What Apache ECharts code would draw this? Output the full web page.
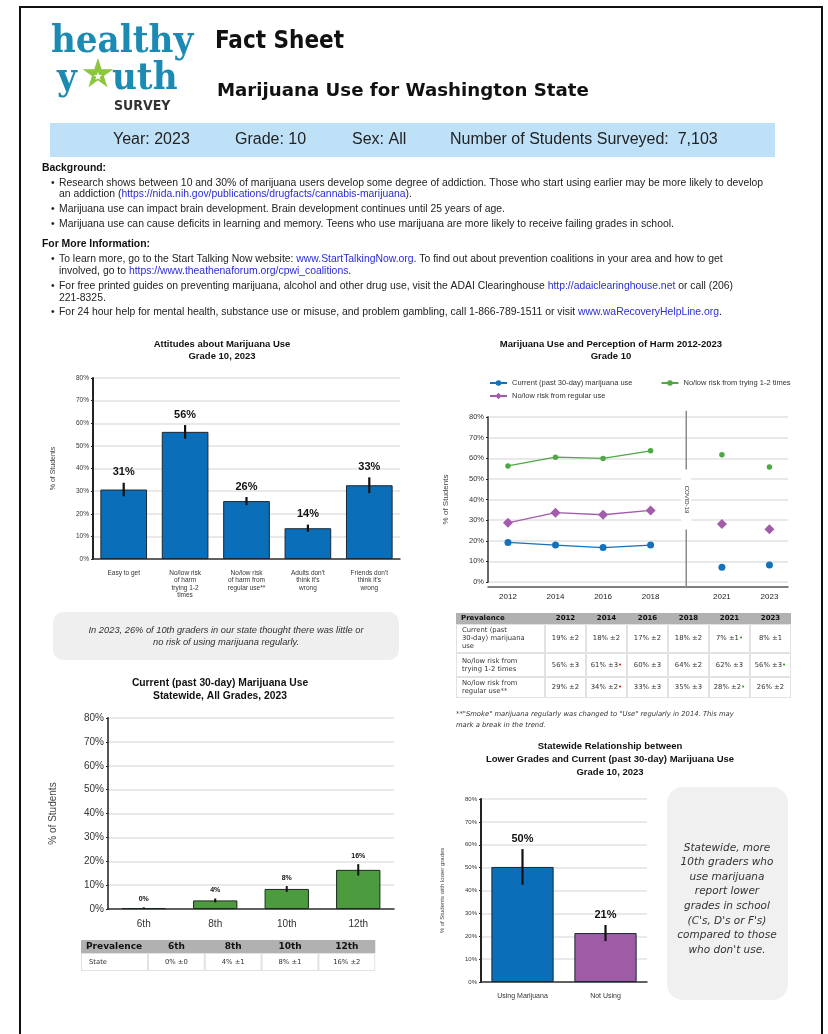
<!DOCTYPE html>
<html>
<head>
<meta charset="utf-8">
<script src="https://cdn.jsdelivr.net/npm/echarts@6/dist/echarts.min.js"></script>
<style>
  html, body { margin: 0; padding: 0; background: #fff; }
  #page { width: 828px; height: 1034px; }
</style>
</head>
<body>
<div id="page"></div>
<script>
// ---- data ----
// Attitudes about Marijuana Use, grade 10, 2023
const attitudeCats = ['Easy to get', 'No/low risk\nof harm\ntrying 1-2\ntimes', 'No/low risk\nof harm from\nregular use**', "Adults don't\nthink it's\nwrong", "Friends don't\nthink it's\nwrong"];
const attitudeVals = [30.7, 56.2, 25.6, 13.6, 32.6];
const attitudeErr = [3.0, 3.0, 1.8, 1.6, 3.5];

// Marijuana Use and Perception of Harm 2012-2023
const trendYears = ['2012', '2014', '2016', '2018', '2021', '2023'];
const trendPos = [0, 1, 2, 3, 4.5, 5.5];
const covidPos = 3.75;
const currentUse = [19.2, 17.9, 16.7, 17.9, 7.1, 8.3];
const riskTrying = [56.3, 60.5, 59.9, 63.6, 61.7, 55.7];
const riskRegular = [28.7, 33.6, 32.6, 34.7, 28.1, 25.6];
const currentErr = [2, 2, 2, 2, 1, 1];
const tryingErr = [3, 3, 3, 2, 3, 3];
const regularErr = [2, 2, 3, 3, 2, 2];
const currentSig = ['', '', '', '', 'g', ''];
const tryingSig = ['', 'r', '', '', '', 'g'];
const regularSig = ['', 'r', '', '', 'g', ''];

// Current (past 30-day) use, statewide, all grades
const gradeCats = ['6th', '8th', '10th', '12th'];
const gradeVals = [0.4, 3.6, 8.4, 16.4];
const gradeErr = [0.3, 0.8, 1.2, 2.4];

// lower grades vs use
const lowerCats = ['Using Marijuana', 'Not Using'];
const lowerVals = [50.3, 21.4];
const lowerErr = [7.8, 3.5];

const SANS = 'Liberation Sans, Arial, sans-serif';
const VER = 'DejaVu Sans, Verdana, sans-serif';
const SERIF = 'DejaVu Serif Condensed, DejaVu Serif, serif';
const COND = 'DejaVu Sans Condensed, DejaVu Sans, sans-serif';
const BLUE = '#0a6fb8';

const chart = echarts.init(document.getElementById('page'));

// plain text helper
function T(x, y, text, o) {
  return {
    type: 'text', silent: true, z: 10,
    style: Object.assign({
      text: text, x: x, y: y, fill: '#222',
      fontSize: 10, fontFamily: SANS,
      align: 'left', verticalAlign: 'middle',
      textAlign: 'left', textVerticalAlign: 'middle'
    }, o || {})
  };
}
function C(x, y, text, o) {
  return T(x, y, text, Object.assign({ align: 'center', textAlign: 'center' }, o || {}));
}
function R(x, y, w, h, fill, o) {
  return { type: 'rect', silent: true, z: 1, shape: Object.assign({ x: x, y: y, width: w, height: h }, o || {}), style: { fill: fill } };
}

const FS = 10.4;
const LINK = { fill: '#2b2bd6', fontSize: FS, fontFamily: SANS };
function para(x, y, text) {
  return T(x, y, text, { fontSize: FS, fill: '#222', rich: { a: LINK } });
}

// trend points with breaks: line only up to 2018, isolated points after covid gap
function trendData(vals) {
  const out = [];
  vals.forEach((v, i) => {
    if (i === 4) out.push([covidPos, '-']);
    if (i === 5) out.push([5, '-']);
    out.push([trendPos[i], v]);
  });
  return out;
}

// error bar + value label for bar charts
const errorBars = (opt) => (params, api) => {
  const i = api.value(0), v = api.value(1), e = api.value(2);
  const hi = api.coord([i, v + e]);
  const lo = api.coord([i, Math.max(v - e, 0)]);
  return {
    type: 'group',
    children: [
      { type: 'line', shape: { x1: hi[0], y1: hi[1], x2: lo[0], y2: lo[1] }, style: { stroke: '#111', lineWidth: opt.lw } },
      {
        type: 'text',
        style: {
          text: Math.round(v) + '%', x: hi[0], y: hi[1] - opt.gap,
          align: 'center', verticalAlign: 'middle', textAlign: 'center', textVerticalAlign: 'middle',
          fontSize: opt.fs, fontWeight: 'bold', fontFamily: SANS, fill: '#111'
        }
      }
    ]
  };
};

// trend table (under line chart)
function trendTable() {
  const els = [];
  const x0 = 456, lw = 89, cw = 41, top = 613;
  const rows = [
    { label: 'Current (past\n30-day) marijuana\nuse', vals: currentUse, err: currentErr, sig: currentSig, y: 624, h: 29 },
    { label: 'No/low risk from\ntrying 1-2 times', vals: riskTrying, err: tryingErr, sig: tryingSig, y: 653, h: 24 },
    { label: 'No/low risk from\nregular use**', vals: riskRegular, err: regularErr, sig: regularSig, y: 677, h: 21 }
  ];
  const totalW = lw + trendYears.length * cw;
  els.push(R(x0, top, totalW, 85, '#e2e2e2'));
  els.push(R(x0, top, totalW, 11, '#b1b1b1'));
  els.push(T(x0 + 5, top + 5.5, 'Prevalence', { fontSize: 7, fontWeight: 'bold', fontFamily: VER, fill: '#111' }));
  trendYears.forEach((yr, j) => {
    els.push(C(x0 + lw + cw * (j + 0.5), top + 5.5, yr, { fontSize: 7, fontWeight: 'bold', fontFamily: VER, fill: '#111' }));
  });
  rows.forEach((r) => {
    els.push(R(x0 + 1, r.y + 1, lw - 2, r.h - 2, '#fff'));
    els.push(T(x0 + 6, r.y + r.h / 2, r.label, { fontSize: 6.8, fontFamily: VER, fill: '#333', lineHeight: 8 }));
    r.vals.forEach((v, j) => {
      const cx = x0 + lw + cw * j;
      els.push(R(cx + 1, r.y + 1, cw - 2, r.h - 2, '#fff'));
      const mark = r.sig[j] ? '{' + r.sig[j] + '|•}' : '';
      els.push(C(cx + cw / 2, r.y + r.h / 2, Math.round(v) + '% ±' + r.err[j] + mark, {
        fontSize: 6.8, fontFamily: VER, fill: '#333',
        rich: { r: { fill: '#e0201a', fontSize: 7, fontFamily: VER }, g: { fill: '#2ea02e', fontSize: 7, fontFamily: VER } }
      }));
    });
  });
  return els;
}

// grade table (under grade bar chart)
function gradeTable() {
  const els = [];
  const x0 = 81, lw = 67, cw = 56.8, top = 940;
  const totalW = lw + gradeCats.length * cw;
  els.push(R(x0, top, totalW, 31, '#e2e2e2'));
  els.push(R(x0, top, totalW, 13, '#b1b1b1'));
  els.push(T(x0 + 5, top + 6.5, 'Prevalence', { fontSize: 9, fontWeight: 'bold', fontFamily: VER, fill: '#111' }));
  els.push(R(x0 + 1, top + 14, lw - 2, 16, '#fff'));
  els.push(T(x0 + 8, top + 22, 'State', { fontSize: 6.8, fontFamily: VER, fill: '#333' }));
  gradeCats.forEach((g, j) => {
    const cx = x0 + lw + cw * j;
    els.push(C(cx + cw / 2, top + 6.5, g, { fontSize: 9, fontWeight: 'bold', fontFamily: VER, fill: '#111' }));
    els.push(R(cx + 1, top + 14, cw - 2, 16, '#fff'));
    els.push(C(cx + cw / 2, top + 22, Math.round(gradeVals[j]) + '% ±' + Math.round(gradeErr[j]), { fontSize: 6.8, fontFamily: VER, fill: '#333' }));
  });
  return els;
}

const graphics = [
  // page frame
  { type: 'rect', silent: true, z: 0, shape: { x: 20, y: 7, width: 802, height: 1040 }, style: { fill: 'none', stroke: '#111', lineWidth: 2 } },
  // logo
  T(51, 42, 'healthy', { fontSize: 38, fontWeight: 'bold', fontFamily: SERIF, fill: '#1b8bb4' }),
  T(57, 79, 'y', { fontSize: 38, fontWeight: 'bold', fontFamily: SERIF, fill: '#1b8bb4' }),
  C(98, 77, '★', { fontSize: 40, fontFamily: 'DejaVu Sans, sans-serif', fill: '#8cc63e' }),
  C(98, 77, '★', { fontSize: 11, fontFamily: 'DejaVu Sans, sans-serif', fill: '#fff' }),
  T(112, 79, 'uth', { fontSize: 38, fontWeight: 'bold', fontFamily: SERIF, fill: '#1b8bb4' }),
  T(114, 106, 'SURVEY', { fontSize: 14, fontWeight: 'bold', fontFamily: COND, fill: '#333' }),
  // headings
  T(215, 42, 'Fact Sheet', { fontSize: 24, fontWeight: 'bold', fontFamily: COND, fill: '#111' }),
  T(217, 91, 'Marijuana Use for Washington State', { fontSize: 18.2, fontWeight: 'bold', fontFamily: VER, fill: '#111' }),
  // info band
  R(50, 123, 725, 34, '#bfe1f8'),
  T(113, 140, 'Year: 2023', { fontSize: 16 }),
  T(235, 140, 'Grade: 10', { fontSize: 16 }),
  T(352, 140, 'Sex: All', { fontSize: 16 }),
  T(450, 140, 'Number of Students Surveyed:  7,103', { fontSize: 16 }),
  // background
  T(42, 168, 'Background:', { fontSize: FS, fontWeight: 'bold', fill: '#111' }),
  T(51, 183, '•', { fontSize: FS }),
  para(59, 183, 'Research shows between 10 and 30% of marijuana users develop some degree of addiction. Those who start using earlier may be more likely to develop'),
  para(59, 194, 'an addiction ({a|https://nida.nih.gov/publications/drugfacts/cannabis-marijuana}).'),
  T(51, 209, '•', { fontSize: FS }),
  para(59, 209, 'Marijuana use can impact brain development. Brain development continues until 25 years of age.'),
  T(51, 224, '•', { fontSize: FS }),
  para(59, 224, 'Marijuana use can cause deficits in learning and memory. Teens who use marijuana are more likely to receive failing grades in school.'),
  T(42, 244, 'For More Information:', { fontSize: FS, fontWeight: 'bold', fill: '#111' }),
  T(51, 259, '•', { fontSize: FS }),
  para(59, 259, 'To learn more, go to the Start Talking Now website: {a|www.StartTalkingNow.org}. To find out about prevention coalitions in your area and how to get'),
  para(59, 271, 'involved, go to {a|https://www.theathenaforum.org/cpwi_coalitions}.'),
  T(51, 286, '•', { fontSize: FS }),
  para(59, 286, 'For free printed guides on preventing marijuana, alcohol and other drug use, visit the ADAI Clearinghouse {a|http://adaiclearinghouse.net} or call (206)'),
  para(59, 298, '221-8325.'),
  T(51, 312, '•', { fontSize: FS }),
  para(59, 312, 'For 24 hour help for mental health, substance use or misuse, and problem gambling, call 1-866-789-1511 or visit {a|www.waRecoveryHelpLine.org}.'),
  // chart titles
  C(222, 344, 'Attitudes about Marijuana Use', { fontSize: 9.5, fontWeight: 'bold', fill: '#111' }),
  C(222, 356, 'Grade 10, 2023', { fontSize: 9.5, fontWeight: 'bold', fill: '#111' }),
  C(611, 344, 'Marijuana Use and Perception of Harm 2012-2023', { fontSize: 9.5, fontWeight: 'bold', fill: '#111' }),
  C(611, 356, 'Grade 10', { fontSize: 9.5, fontWeight: 'bold', fill: '#111' }),
  C(220, 683, 'Current (past 30-day) Marijuana Use', { fontSize: 10.3, fontWeight: 'bold', fill: '#111' }),
  C(220, 696, 'Statewide, All Grades, 2023', { fontSize: 10.3, fontWeight: 'bold', fill: '#111' }),
  C(610, 746, 'Statewide Relationship between', { fontSize: 9.5, fontWeight: 'bold', fill: '#111' }),
  C(610, 759, 'Lower Grades and Current (past 30-day) Marijuana Use', { fontSize: 9.5, fontWeight: 'bold', fill: '#111' }),
  C(610, 772, 'Grade 10, 2023', { fontSize: 9.5, fontWeight: 'bold', fill: '#111' }),
  // callouts
  R(53, 612, 346, 48, '#efefef', { r: 10 }),
  C(226, 636, 'In 2023, 26% of 10th graders in our state thought there was little or\nno risk of using marijuana regularly.', { fontSize: 9.3, fontStyle: 'italic', fill: '#333', lineHeight: 12 }),
  R(667, 787, 121, 213, '#f0f0f0', { r: 16 }),
  C(727, 899, "Statewide, more\n10th graders who\nuse marijuana\nreport lower\ngrades in school\n(C's, D's or F's)\ncompared to those\nwho don't use.", { fontSize: 10.5, fontStyle: 'italic', fontFamily: VER, fill: '#333', lineHeight: 14.6 }),
  // footnote
  T(456, 709, '**"Smoke" marijuana regularly was changed to "Use" regularly in 2014. This may\nmark a break in the trend.', { fontSize: 6.8, fontStyle: 'italic', fontFamily: VER, fill: '#333', lineHeight: 10.5, verticalAlign: 'top', textVerticalAlign: 'top' })
].concat(trendTable(), gradeTable());

const pctAxis = (o) => Object.assign({
  type: 'value', min: 0, max: 80, interval: 10,
  axisLine: { show: true, onZero: false, lineStyle: { color: '#222', width: 2 } },
  axisTick: { show: true, length: 2, lineStyle: { color: '#222' } },
  axisLabel: { formatter: '{value}%', color: '#333', fontFamily: SANS },
  splitLine: { lineStyle: { color: '#e2e2e2', width: 1.5 } },
  nameLocation: 'middle',
  nameTextStyle: { color: '#444', fontFamily: SANS }
}, o);

const option = {
  animation: false,
  backgroundColor: '#fff',
  textStyle: { fontFamily: SANS },
  grid: [
    { left: 93, top: 378, width: 307, height: 181 },
    { left: 488, top: 417, width: 300, height: 165 },
    { left: 108, top: 718, width: 286, height: 191 },
    { left: 481, top: 799, width: 166, height: 183 }
  ],
  legend: [
    {
      data: ['Current (past 30-day) marijuana use', 'No/low risk from trying 1-2 times'],
      left: 484, top: 374, itemGap: 28, itemWidth: 17, itemHeight: 7,
      textStyle: { fontSize: 7.5, color: '#333', fontFamily: SANS }
    },
    {
      data: ['No/low risk from regular use'],
      left: 484, top: 387, itemWidth: 17, itemHeight: 8,
      textStyle: { fontSize: 7.5, color: '#333', fontFamily: SANS }
    }
  ],
  xAxis: [
    {
      gridIndex: 0, type: 'category', data: attitudeCats,
      axisLine: { lineStyle: { color: '#333', width: 1.5 } }, axisTick: { show: false },
      axisLabel: { interval: 0, fontSize: 6.5, lineHeight: 7.5, color: '#333', margin: 10 }
    },
    {
      gridIndex: 1, type: 'value', min: -0.42, max: 5.89, offset: 5,
      axisLine: { show: true, onZero: false, lineStyle: { color: '#555', width: 1.5 } }, axisTick: { show: false },
      splitLine: { show: false },
      axisLabel: {
        customValues: trendPos, fontSize: 8, color: '#222', margin: 6,
        formatter: (v) => trendYears[trendPos.indexOf(v)] || ''
      }
    },
    {
      gridIndex: 2, type: 'category', data: gradeCats,
      axisLine: { lineStyle: { color: '#333', width: 1.5 } }, axisTick: { show: false },
      axisLabel: { fontSize: 10, color: '#333', margin: 10 }
    },
    {
      gridIndex: 3, type: 'category', data: lowerCats,
      axisLine: { lineStyle: { color: '#333', width: 1.5 } }, axisTick: { show: false },
      axisLabel: { fontSize: 7, color: '#333', margin: 11 }
    }
  ],
  yAxis: [
    pctAxis({ gridIndex: 0, name: '% of Students', nameGap: 36, nameTextStyle: { fontSize: 7, color: '#444' }, axisLabel: { formatter: '{value}%', fontSize: 6.5, color: '#333', margin: 4 } }),
    pctAxis({ gridIndex: 1, name: '% of Students', nameGap: 38, nameTextStyle: { fontSize: 8, color: '#444' }, axisLine: { show: true, onZero: false, lineStyle: { color: '#666', width: 2 } }, axisLabel: { formatter: '{value}%', fontSize: 7.5, color: '#333', margin: 4 } }),
    pctAxis({ gridIndex: 2, name: '% of Students', nameGap: 50, nameTextStyle: { fontSize: 10, color: '#444' }, axisLine: { show: true, onZero: false, lineStyle: { color: '#555', width: 2 } }, axisLabel: { formatter: '{value}%', fontSize: 10, color: '#333', margin: 4 } }),
    pctAxis({ gridIndex: 3, name: '% of Students with lower grades', nameGap: 36, nameTextStyle: { fontSize: 6, color: '#444' }, axisLabel: { formatter: '{value}%', fontSize: 6, color: '#333', margin: 4 } })
  ],
  series: [
    {
      type: 'bar', xAxisIndex: 0, yAxisIndex: 0, data: attitudeVals, barCategoryGap: '24%', silent: true,
      itemStyle: { color: BLUE, borderColor: '#1c2733', borderWidth: 1 }
    },
    {
      type: 'custom', xAxisIndex: 0, yAxisIndex: 0, silent: true, z: 5, clip: false,
      data: attitudeVals.map((v, i) => [i, v, attitudeErr[i]]), encode: { x: 0, y: 1 },
      renderItem: errorBars({ lw: 2.2, gap: 10.5, fs: 11 })
    },
    {
      name: 'Current (past 30-day) marijuana use', type: 'line', xAxisIndex: 1, yAxisIndex: 1,
      data: trendData(currentUse),
      symbol: 'circle', symbolSize: 7, color: '#1273ba', lineStyle: { width: 1.3 }, connectNulls: false
    },
    {
      name: 'No/low risk from trying 1-2 times', type: 'line', xAxisIndex: 1, yAxisIndex: 1,
      data: trendData(riskTrying),
      symbol: 'circle', symbolSize: 5.5, color: '#4ea844', lineStyle: { width: 1.3 }, connectNulls: false
    },
    {
      name: 'No/low risk from regular use', type: 'line', xAxisIndex: 1, yAxisIndex: 1,
      data: trendData(riskRegular),
      symbol: 'diamond', symbolSize: 10, color: '#a35bab', lineStyle: { width: 1.3 }, connectNulls: false
    },
    {
      type: 'bar', xAxisIndex: 2, yAxisIndex: 2, data: gradeVals, barCategoryGap: '38%', silent: true,
      itemStyle: { color: '#4c9b3f', borderColor: '#1c2a1c', borderWidth: 1 }
    },
    {
      type: 'custom', xAxisIndex: 2, yAxisIndex: 2, silent: true, z: 5, clip: false,
      data: gradeVals.map((v, i) => [i, v, gradeErr[i]]), encode: { x: 0, y: 1 },
      renderItem: errorBars({ lw: 2, gap: 8, fs: 7 })
    },
    {
      type: 'bar', xAxisIndex: 3, yAxisIndex: 3, barCategoryGap: '25%', silent: true,
      data: lowerVals.map((v, i) => ({ value: v, itemStyle: { color: i === 0 ? BLUE : '#9e5ba6' } })),
      itemStyle: { borderColor: '#1c2733', borderWidth: 1 }
    },
    {
      type: 'custom', xAxisIndex: 3, yAxisIndex: 3, silent: true, z: 5, clip: false,
      data: lowerVals.map((v, i) => [i, v, lowerErr[i]]), encode: { x: 0, y: 1 },
      renderItem: errorBars({ lw: 2.2, gap: 10, fs: 11 })
    }
  ],
  graphic: graphics
};

chart.setOption(option);

// covid-19 break line, placed through the trend chart's own axes
const sepTop = chart.convertToPixel({ gridIndex: 1 }, [covidPos, 83]);
const sepBot = chart.convertToPixel({ gridIndex: 1 }, [covidPos, -3]);
const sepMid = chart.convertToPixel({ gridIndex: 1 }, [covidPos, 40]);
chart.setOption({
  graphic: graphics.concat([
    { type: 'line', silent: true, z: 3, shape: { x1: sepTop[0], y1: sepTop[1], x2: sepBot[0], y2: sepBot[1] }, style: { stroke: '#8a8a8a', lineWidth: 1.5 } },
    { type: 'rect', silent: true, z: 4, shape: { x: sepMid[0] - 5, y: sepMid[1] - 30, width: 10, height: 60 }, style: { fill: '#fff' } },
    {
      type: 'text', silent: true, z: 5, x: sepMid[0], y: sepMid[1], rotation: -Math.PI / 2,
      style: { text: 'COVID-19', x: 0, y: 0, align: 'center', verticalAlign: 'middle', textAlign: 'center', textVerticalAlign: 'middle', fontSize: 6, fontFamily: SANS, fill: '#333' }
    }
  ])
});
</script>
</body>
</html>
